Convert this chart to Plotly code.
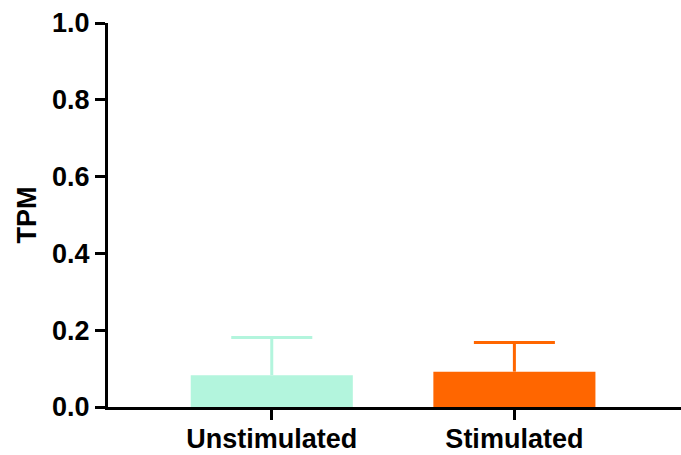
import plotly.graph_objects as go

categories = ["Unstimulated", "Stimulated"]
means = [0.083, 0.092]
errors_upper = [0.098, 0.076]
colors = ["#B3F5DD", "#FF6600"]

CAP_HALF = 0.167  # half width of error cap in category units

fig = go.Figure()
for i, (cat, m, e, c) in enumerate(zip(categories, means, errors_upper, colors)):
    fig.add_trace(go.Bar(
        x=[i], y=[m], width=0.668,
        marker=dict(color=c, line=dict(width=0)),
        showlegend=False, hoverinfo="skip",
    ))
    fig.add_trace(go.Scatter(
        x=[i, i, None, i - CAP_HALF, i + CAP_HALF],
        y=[m, m + e, None, m + e, m + e],
        mode="lines", line=dict(color=c, width=3),
        showlegend=False, hoverinfo="skip",
    ))

font = dict(family="Liberation Sans, Arial, sans-serif", size=27, color="black", weight="bold")

fig.update_layout(
    width=700, height=455,
    margin=dict(l=108, r=0, t=23, b=48),
    plot_bgcolor="white", paper_bgcolor="white",
    font=font,
    xaxis=dict(
        range=[-0.675, 1.765],
        tickmode="array", tickvals=[0, 1], ticktext=categories,
        showline=True, linecolor="black", linewidth=3,
        ticks="outside", ticklen=10, tickwidth=3, tickcolor="black",
        showgrid=False, zeroline=False, tickfont=font, automargin=False,
        ticklabelstandoff=-4,
    ),
    yaxis=dict(
        range=[0, 1.0], tickvals=[0, 0.2, 0.4, 0.6, 0.8, 1.0], tickformat=".1f",
        showline=True, linecolor="black", linewidth=3,
        ticks="outside", ticklen=10, tickwidth=3, tickcolor="black",
        showgrid=False, zeroline=False, tickfont=font, automargin=False,
        title=dict(text="TPM", font=font, standoff=8),
    ),
)

fig.write_html(
    "out.html",
    config={"displayModeBar": False},
    post_script="document.body.style.margin='0';document.body.style.overflow='hidden';",
)
